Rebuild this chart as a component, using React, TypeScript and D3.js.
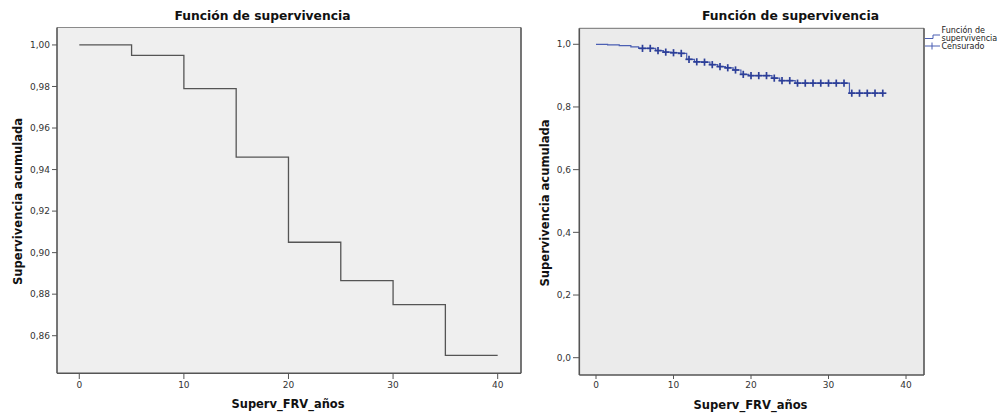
import React from "react";
import * as d3 from "d3";

// ---- Left chart data (step survival curve) ----
const leftTimes = [0, 5, 10, 15, 20, 25, 30, 35];
const leftSurv = [1.0, 0.995, 0.979, 0.946, 0.905, 0.8865, 0.875, 0.8505];
const leftEnd = 40;
const leftYTicks = [0.86, 0.88, 0.9, 0.92, 0.94, 0.96, 0.98, 1.0];
const xTicks = [0, 10, 20, 30, 40];

// ---- Right chart data (Kaplan-Meier with censor marks) ----
const rightTimes = [0, 1.5, 3, 4.5, 5.5, 7.7, 8.7, 9.7, 10.7, 11.7, 12.7, 13.7, 14.7, 15.7, 16.7, 17.7, 18.7, 19.7, 22.7, 23.7, 25.7, 32.7];
const rightSurv = [1.0, 0.998, 0.996, 0.992, 0.987, 0.98, 0.975, 0.973, 0.971, 0.952, 0.944, 0.943, 0.935, 0.929, 0.925, 0.918, 0.904, 0.9, 0.892, 0.884, 0.876, 0.844];
const rightEnd = 37;
const censorTimes = [6, 7, 8, 9, 10, 11, 12, 13, 14, 15, 16, 17, 18, 19, 20, 21, 22, 23, 24, 25, 26, 27, 28, 29, 30, 31, 32, 33, 34, 35, 36, 37];
const rightYTicks = [0.0, 0.2, 0.4, 0.6, 0.8, 1.0];

const FONT = "'DejaVu Sans', Verdana, sans-serif";
const fmt2 = (v: number) => v.toFixed(2).replace(".", ",");
const fmt1 = (v: number) => v.toFixed(1).replace(".", ",");

function stepAt(times: number[], vals: number[], t: number) {
  let v = vals[0];
  for (let i = 0; i < times.length; i++) if (times[i] <= t) v = vals[i];
  return v;
}

export default function App() {
  // Left scales
  const xL = d3.scaleLinear().domain([-2.13, 42.23]).range([57, 521]);
  const yL = d3.scaleLinear().domain([0.8419, 1.0084]).range([373.3, 27.5]);
  // Right scales
  const xR = d3.scaleLinear().domain([-2.155, 42.32]).range([579.3, 924]);
  const yR = d3.scaleLinear().domain([-0.0552, 1.051]).range([375, 28.3]);

  const leftPts: [number, number][] = leftTimes.map((t, i) => [t, leftSurv[i]]);
  leftPts.push([leftEnd, leftSurv[leftSurv.length - 1]]);
  const lineL = d3
    .line<[number, number]>()
    .x((d) => xL(d[0]))
    .y((d) => yL(d[1]))
    .curve(d3.curveStepAfter);

  const rightPts: [number, number][] = rightTimes.map((t, i) => [t, rightSurv[i]]);
  rightPts.push([rightEnd, rightSurv[rightSurv.length - 1]]);
  const lineR = d3
    .line<[number, number]>()
    .x((d) => xR(d[0]))
    .y((d) => yR(d[1]))
    .curve(d3.curveStepAfter);

  const frame = (x0: number, x1: number, y0: number, y1: number, fill: string) => (
    <g>
      <rect x={x0} y={y0} width={x1 - x0} height={y1 - y0} fill={fill} stroke="none" />
      <line x1={x0} x2={x1} y1={y0} y2={y0} stroke="#8a8a8a" strokeWidth={1.2} />
      <line x1={x1} x2={x1} y1={y0} y2={y1} stroke="#555" strokeWidth={1.6} />
      <line x1={x0} x2={x1} y1={y1} y2={y1} stroke="#555" strokeWidth={1.6} />
      <line x1={x0} x2={x0} y1={y0} y2={y1} stroke="#555" strokeWidth={1.6} />
    </g>
  );

  return (
    <svg
      width={1002}
      height={414}
      style={{ position: "absolute", left: 0, top: 0, background: "#fff" }}
      fontFamily={FONT}
    >
      {/* ===== LEFT CHART ===== */}
      <text x={262.5} y={20} textAnchor="middle" fontSize={12} fontWeight="bold" fill="#111" textLength={176} lengthAdjust="spacingAndGlyphs">
        Función de supervivencia
      </text>
      {frame(57, 521, 27.5, 373.3, "#efefef")}
      {leftYTicks.map((v) => (
        <g key={"ly" + v}>
          <line x1={52} x2={57} y1={yL(v)} y2={yL(v)} stroke="#555" strokeWidth={1} />
          <text x={50} y={yL(v) + 3.2} textAnchor="end" fontSize={9} fill="#333">
            {fmt2(v)}
          </text>
        </g>
      ))}
      {xTicks.map((v) => (
        <g key={"lx" + v}>
          <line x1={xL(v)} x2={xL(v)} y1={373.3} y2={379} stroke="#555" strokeWidth={1} />
          <text x={xL(v)} y={387.5} textAnchor="middle" fontSize={9} fill="#333">
            {v}
          </text>
        </g>
      ))}
      <path d={lineL(leftPts) || ""} fill="none" stroke="#555" strokeWidth={1.3} />
      <text x={288} y={408} textAnchor="middle" fontSize={12} fontWeight="bold" fill="#111" textLength={113} lengthAdjust="spacingAndGlyphs">
        Superv_FRV_años
      </text>
      <text
        transform={`translate(21.5,201.5) rotate(-90)`}
        textAnchor="middle"
        fontSize={12}
        fontWeight="bold"
        fill="#111"
        textLength={167}
        lengthAdjust="spacingAndGlyphs"
      >
        Supervivencia acumulada
      </text>

      {/* ===== RIGHT CHART ===== */}
      <text x={790.5} y={20} textAnchor="middle" fontSize={12} fontWeight="bold" fill="#111" textLength={177} lengthAdjust="spacingAndGlyphs">
        Función de supervivencia
      </text>
      {frame(579.3, 924, 28.3, 375, "#ebebeb")}
      {rightYTicks.map((v) => (
        <g key={"ry" + v}>
          <line x1={573} x2={579.3} y1={yR(v)} y2={yR(v)} stroke="#555" strokeWidth={1} />
          <text x={571} y={yR(v) + 3.2} textAnchor="end" fontSize={9} fill="#333">
            {fmt1(v)}
          </text>
        </g>
      ))}
      {xTicks.map((v) => (
        <g key={"rx" + v}>
          <line x1={xR(v)} x2={xR(v)} y1={375} y2={379} stroke="#555" strokeWidth={1} />
          <text x={xR(v)} y={388} textAnchor="middle" fontSize={9} fill="#333">
            {v}
          </text>
        </g>
      ))}
      <path d={lineR(rightPts) || ""} fill="none" stroke="#4b5fb3" strokeWidth={1.2} />
      {censorTimes.map((t) => {
        const cx = xR(t);
        const cy = yR(stepAt(rightTimes, rightSurv, t));
        return (
          <g key={"c" + t} stroke="#2d3f98" strokeWidth={1.7}>
            <line x1={cx - 3.6} x2={cx + 3.6} y1={cy} y2={cy} />
            <line x1={cx} x2={cx} y1={cy - 3.6} y2={cy + 3.6} />
          </g>
        );
      })}
      <text x={750.5} y={409} textAnchor="middle" fontSize={12} fontWeight="bold" fill="#111" textLength={114} lengthAdjust="spacingAndGlyphs">
        Superv_FRV_años
      </text>
      <text
        transform={`translate(549,203) rotate(-90)`}
        textAnchor="middle"
        fontSize={12}
        fontWeight="bold"
        fill="#111"
        textLength={167}
        lengthAdjust="spacingAndGlyphs"
      >
        Supervivencia acumulada
      </text>

      {/* Legend */}
      <path d="M925,38.5 H933 V35 H940" fill="none" stroke="#4b5fb3" strokeWidth={1} />
      <text x={941.5} y={33} fontSize={8} fill="#222">Función de</text>
      <text x={941.5} y={40.5} fontSize={8} fill="#222">supervivencia</text>
      <line x1={925} x2={940} y1={46} y2={46} stroke="#4b5fb3" strokeWidth={1} />
      <line x1={932} x2={932} y1={42.5} y2={49.5} stroke="#4b5fb3" strokeWidth={1} />
      <text x={941.5} y={48.5} fontSize={8} fill="#222">Censurado</text>
    </svg>
  );
}
